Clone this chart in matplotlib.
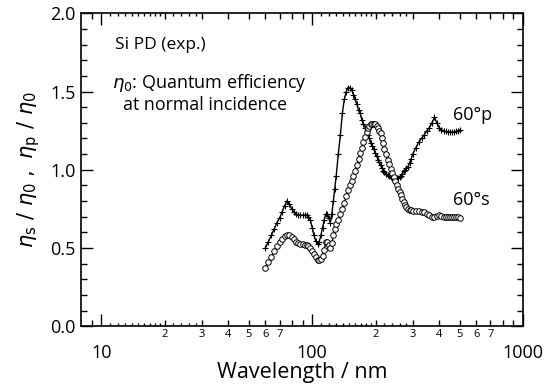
import numpy as np
import matplotlib
matplotlib.use("Agg")
import matplotlib.pyplot as plt
from matplotlib.ticker import FixedLocator, FixedFormatter

plt.rcParams['font.family'] = ['Open Sans', 'DejaVu Sans']
plt.rcParams['mathtext.fontset'] = 'dejavusans'

# measurement wavelengths (nm)
wavelength = [60, 62, 64, 66, 68, 70, 72, 74, 76, 78, 80, 82, 84, 86, 88, 90, 92, 94, 96, 98,
              100, 102, 104, 106, 108, 110, 112, 114, 116, 118, 120, 122, 124, 126, 128, 130,
              133, 136, 139, 142, 145, 148, 151, 154, 157, 160, 163, 166, 169, 172, 175, 178,
              181, 184, 187, 190, 193, 196, 199, 202, 205, 208, 211, 214, 217, 220, 224, 228,
              232, 236, 240, 244, 248, 252, 256, 260, 264, 268, 272, 276, 280, 285, 290, 295,
              300, 310, 320, 330, 340, 350, 360, 370, 380, 390, 400, 410, 420, 430, 440, 450,
              460, 470, 480, 490, 500]

# 60 deg p-polarization  (eta_p / eta_0)
ratio_p = [0.50, 0.54, 0.58, 0.62, 0.66, 0.69, 0.73, 0.77, 0.80, 0.78, 0.75, 0.73, 0.715, 0.71, 0.71, 0.71, 0.71, 0.71, 0.70, 0.68,
           0.63, 0.58, 0.545, 0.525, 0.54, 0.58, 0.63, 0.68, 0.715, 0.72, 0.69, 0.66, 0.72, 0.80, 0.88, 0.96,
           1.10, 1.22, 1.36, 1.45, 1.50, 1.525, 1.525, 1.51, 1.48, 1.45, 1.42, 1.38, 1.36, 1.32, 1.29, 1.27,
           1.25, 1.22, 1.20, 1.17, 1.15, 1.13, 1.11, 1.09, 1.065, 1.05, 1.03, 1.01, 0.995, 0.985, 0.975, 0.965,
           0.958, 0.952, 0.948, 0.947, 0.947, 0.948, 0.95, 0.955, 0.96, 0.975, 0.99, 1.00, 1.01, 1.02, 1.045, 1.07,
           1.10, 1.14, 1.175, 1.20, 1.225, 1.25, 1.27, 1.30, 1.335, 1.30, 1.27, 1.255, 1.25, 1.245, 1.24, 1.24,
           1.24, 1.24, 1.245, 1.25, 1.255]

# 60 deg s-polarization  (eta_s / eta_0)
ratio_s = [0.37, 0.41, 0.44, 0.48, 0.51, 0.54, 0.56, 0.575, 0.585, 0.58, 0.57, 0.555, 0.54, 0.53, 0.525, 0.525, 0.52, 0.52, 0.515, 0.50,
           0.48, 0.46, 0.44, 0.425, 0.42, 0.43, 0.45, 0.49, 0.535, 0.54, 0.52, 0.50, 0.53, 0.58, 0.62, 0.65,
           0.68, 0.72, 0.75, 0.79, 0.83, 0.87, 0.90, 0.93, 0.96, 0.99, 1.03, 1.07, 1.11, 1.14, 1.18, 1.21,
           1.24, 1.265, 1.28, 1.29, 1.295, 1.295, 1.29, 1.28, 1.265, 1.25, 1.235, 1.20, 1.17, 1.135, 1.10, 1.065,
           1.035, 1.005, 0.98, 0.955, 0.93, 0.905, 0.88, 0.86, 0.84, 0.815, 0.795, 0.775, 0.76, 0.75, 0.745, 0.74,
           0.738, 0.735, 0.733, 0.73, 0.73, 0.72, 0.71, 0.70, 0.70, 0.705, 0.71, 0.705, 0.70, 0.70, 0.70, 0.695,
           0.70, 0.70, 0.70, 0.695, 0.69]

major_ticks = [10, 100, 1000]
mid_ticks = [9, 20, 30, 40, 50, 60, 70, 80, 90, 200, 300, 400, 500, 600, 700, 800, 900]
small_ticks = [11, 12, 13, 14, 15, 16, 17, 18, 19, 22, 24, 26, 28,
               110, 120, 130, 140, 150, 160, 170, 180, 190, 220, 240, 260, 280]
mid_labels = {20: '2', 30: '3', 40: '4', 50: '5', 60: '6', 70: '7',
              200: '2', 300: '3', 400: '4', 500: '5', 600: '6', 700: '7'}

fig = plt.figure(figsize=(5.5, 3.92), dpi=100)
ax = fig.add_axes([0.147, 0.168, 0.804, 0.798])

ax.plot(wavelength, ratio_p, color='black', lw=1.0, marker='+', ms=5, mew=0.8)
ax.plot(wavelength, ratio_s, color='black', lw=1.0, marker='o', ms=4, mew=0.7, mfc='white')

ax.set_xscale('log')
ax.set_xlim(8, 1000)
ax.set_ylim(0, 2.0)

ax.xaxis.set_major_locator(FixedLocator(major_ticks))
ax.xaxis.set_major_formatter(FixedFormatter(['10', '100', '1000']))
minor_all = sorted(mid_ticks + small_ticks)
ax.xaxis.set_minor_locator(FixedLocator(minor_all))
ax.xaxis.set_minor_formatter(FixedFormatter([mid_labels.get(v, '') for v in minor_all]))

ax.set_yticks(np.arange(0, 2.01, 0.5))
ax.set_yticks(np.arange(0, 2.01, 0.1), minor=True)
ax.yaxis.set_major_formatter(matplotlib.ticker.FormatStrFormatter('%.1f'))

ax.tick_params(which='both', direction='in', top=True, right=True, width=1.0)
ax.tick_params(which='major', length=8.5, labelsize=13)
ax.tick_params(axis='x', which='major', pad=13)
ax.tick_params(axis='x', which='minor', length=4, labelsize=8, pad=2)
ax.tick_params(axis='y', which='minor', length=4.5)

fig.canvas.draw()
for t in ax.xaxis.get_minor_ticks():
    if t.get_loc() in small_ticks:
        t.tick1line.set_markersize(2.2)
        t.tick2line.set_markersize(2.2)

for s in ax.spines.values():
    s.set_linewidth(1.2)

ax.set_xlabel('Wavelength / nm', fontsize=15.5, labelpad=0)
ax.set_ylabel(r'$\eta_{\mathrm{s}}\ /\ \eta_0\ ,\ \eta_{\mathrm{p}}\ /\ \eta_0$', fontsize=15, labelpad=6)

ax.text(0.078, 0.898, 'Si PD (exp.)', transform=ax.transAxes, fontsize=12.5, va='center')
ax.text(0.07, 0.776, r'$\eta_0$: Quantum efficiency', transform=ax.transAxes, fontsize=13, va='center')
ax.text(0.096, 0.706, 'at normal incidence', transform=ax.transAxes, fontsize=12.8, va='center')
ax.text(0.842, 0.674, '60°p', transform=ax.transAxes, fontsize=13, va='center')
ax.text(0.842, 0.403, '60°s', transform=ax.transAxes, fontsize=13, va='center')

fig.savefig('out.png', dpi=100)
